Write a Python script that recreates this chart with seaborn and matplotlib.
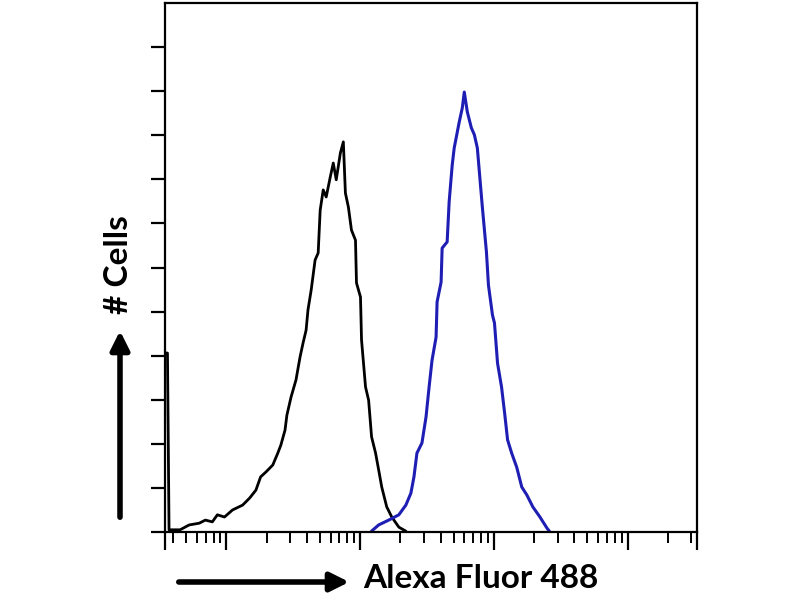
import numpy as np
import pandas as pd
import seaborn as sns
import matplotlib.pyplot as plt
from matplotlib.ticker import LogLocator, FixedLocator, NullFormatter

# control (black) histogram: intensity vs cell count
ctrl_x = [3.47, 3.62, 3.72, 4.50, 5.26, 6.26, 6.95, 7.84, 8.55, 9.66, 11.1, 13.2, 14.9,
          16.6, 18.0, 19.7, 22.2, 24.2, 25.5, 27.4, 28.3, 30.4, 33.1, 35.5, 37.4,
          39.4, 40.7, 43.0, 46.0, 48.5, 50.2, 52.9, 55.7, 59.7, 62.9, 66.2, 71.1,
          74.8, 77.5, 81.6, 86.0, 92.2, 93.8, 100.5, 102.3, 109.6, 115.6, 121.6,
          130.3, 137.4, 144.9, 157.9, 172.2, 194.5, 219.4]
ctrl_y = [40.6, 40.6, 0.5, 0.5, 1.6, 2.0, 2.7, 2.3, 3.9, 3.4, 5.0, 6.1, 7.7,
          9.5, 12.5, 13.6, 15.2, 17.9, 19.7, 23.1, 26.5, 30.6, 34.5, 39.7, 42.9,
          45.8, 50.4, 54.9, 61.7, 63.3, 73.0, 77.6, 76.0, 80.5, 83.7, 79.9, 86.0,
          88.5, 76.9, 73.7, 68.5, 66.2, 56.5, 53.3, 43.6, 32.9, 29.9, 21.6,
          17.9, 14.1, 10.2, 5.7, 3.4, 1.1, 0.2]

# stained (blue) histogram
stain_x = [121.6, 137.4, 163.4, 194.5, 219.4, 239.3, 252.3, 265.6, 289.6, 310.6,
           327.5, 344.6, 369.3, 375.8, 402.7, 409.9, 446.9, 462.5, 487.8, 504.5,
           550.2, 580.0, 600.2, 632.3, 677.5, 714.0, 751.7, 778.0, 820.3, 879.0,
           910.0, 975.3, 1009.5, 1064, 1140, 1202, 1265, 1357, 1480, 1615, 1762,
           1954, 2208, 2490, 2624]
stain_y = [0.2, 1.6, 2.7, 3.9, 6.1, 8.8, 12.5, 17.9, 20.2, 26.1,
           32.9, 39.0, 44.2, 52.2, 56.7, 64.4, 65.8, 74.9, 83.3, 87.1,
           93.0, 96.2, 99.8, 95.3, 91.7, 90.1, 87.1, 81.7, 73.5, 63.5,
           56.0, 49.2, 47.4, 38.3, 32.9, 27.0, 20.9, 17.9, 14.7, 10.2, 8.4,
           5.7, 3.4, 0.9, 0.0]

x_min, x_max = 3.47, 33000
y_ticks = list(range(0, 120, 10))

sns.set_style("white")
plt.rcParams['font.family'] = ['Lato', 'DejaVu Sans']
plt.rcParams['text.color'] = 'black'

fig = plt.figure(figsize=(8, 6), dpi=100)
ax = fig.add_axes([165 / 800, 68 / 600, 532 / 800, 529 / 600])

ctrl = pd.DataFrame({"x": ctrl_x, "y": ctrl_y})
stain = pd.DataFrame({"x": stain_x, "y": stain_y})
sns.lineplot(data=ctrl, x="x", y="y", ax=ax, color="black", lw=2.0,
             estimator=None, sort=False)
sns.lineplot(data=stain, x="x", y="y", ax=ax, color="#1e1eb4", lw=2.2,
             estimator=None, sort=False)

ax.set_xscale("log")
ax.set_xlim(x_min, x_max)
ax.set_ylim(0, 120)
ax.set_xlabel("")
ax.set_ylabel("")

ax.xaxis.set_major_locator(FixedLocator([x_min, 10, 100, 1000, 10000, x_max]))
ax.xaxis.set_minor_locator(LogLocator(base=10, subs=np.arange(2, 10), numticks=20))
ax.xaxis.set_minor_formatter(NullFormatter())
ax.set_xticklabels([])
ax.set_yticks(y_ticks)
ax.set_yticklabels([])

ax.tick_params(axis="x", which="major", direction="out", length=13, width=1.6,
               color="black", bottom=True)
ax.tick_params(axis="x", which="minor", direction="out", length=8, width=1.4,
               color="black", bottom=True)
ax.tick_params(axis="y", which="major", direction="out", length=10, width=1.6,
               color="black", left=True)
for s in ax.spines.values():
    s.set_color("black")
    s.set_linewidth(1.6)

# axis labels with arrows
fig.text(598 / 800, 21 / 600, "Alexa Fluor 488", ha="right", va="center",
         fontsize=24, fontweight="bold", color="black")
ax.annotate("", xy=(352, 18), xytext=(176, 18), xycoords="figure pixels",
            textcoords="figure pixels",
            arrowprops=dict(arrowstyle="-|>", lw=4, mutation_scale=28, color="black"))
fig.text(118 / 800, 335 / 600, "# Cells", ha="center", va="center", rotation=90,
         fontsize=24, fontweight="bold", color="black")
ax.annotate("", xy=(120, 272), xytext=(120, 80), xycoords="figure pixels",
            textcoords="figure pixels",
            arrowprops=dict(arrowstyle="-|>", lw=4, mutation_scale=28, color="black"))

fig.savefig("out.png", dpi=100)
